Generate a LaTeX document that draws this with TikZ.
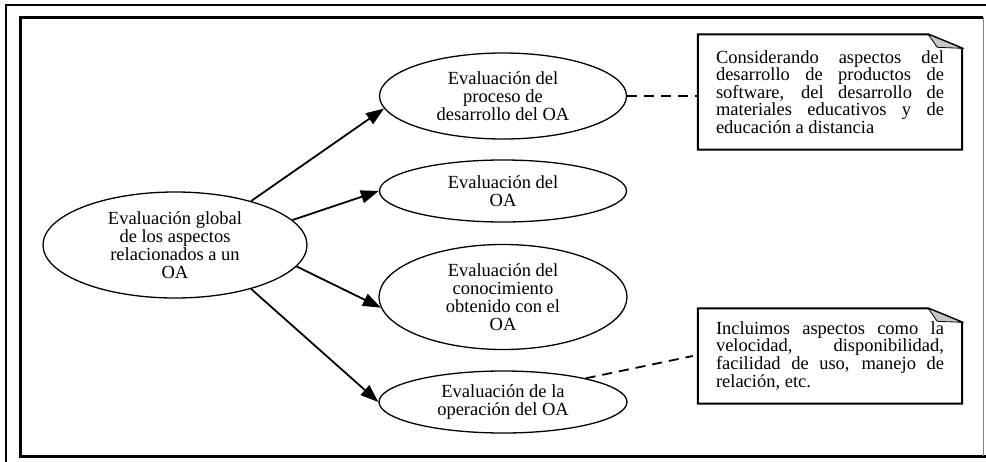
\documentclass[tikz,border=0pt]{standalone}
\usepackage{fontspec}
\setmainfont{Liberation Serif}
\usepackage{tikz}
\usetikzlibrary{arrows.meta, shapes.geometric, calc}
\tolerance=10000
\hbadness=10000

\tikzset{
  evalnode/.style={ellipse, draw, line width=1.3pt, inner sep=0pt, align=center,
    font=\fontsize{18.5}{18.2}\selectfont},
  notanode/.style={minimum width=264pt, text width=228pt, align=justify, inner sep=0pt,
    font=\fontsize{18.5}{16.8}\selectfont},
  flecha/.style={line width=1.8pt, -{Triangle[length=18pt, width=13pt]}},
  enlace/.style={line width=1.8pt, dash pattern=on 10pt off 7pt},
}

\begin{document}
\begin{tikzpicture}[x=1pt, y=-1pt]
  \useasboundingbox (0,0) rectangle (986,461);

  % --- Frame ---
  \draw[line width=2pt] (6,5) rectangle (992,467);
  \draw[line width=3pt] (983,17) -- (20,17) -- (20,456) -- (986,456);
  \draw[gray, line width=1pt] (983,17) -- (983,456);

  % --- Left: global evaluation ---
  \node[evalnode, minimum width=264pt, minimum height=106pt] (global) at (175,245)
    {Evaluación global\\de los aspectos\\relacionados a un\\OA};

  % --- Center: the four evaluations ---
  \node[evalnode, minimum width=247pt, minimum height=86pt] (proceso) at (503,96)
    {Evaluación del\\proceso de\\desarrollo del OA};
  \node[evalnode, minimum width=247pt, minimum height=62pt] (oa) at (503,191)
    {Evaluación del\\OA};
  \node[evalnode, minimum width=248pt, minimum height=105pt] (conocimiento) at (503,297)
    {Evaluación del\\conocimiento\\obtenido con el\\OA};
  \node[evalnode, minimum width=248pt, minimum height=62pt] (operacion) at (503,402)
    {Evaluación de la\\operación del OA};

  \draw[flecha] (global.30) -- (proceso.186);
  \draw[flecha] (global.12) -- (oa.west);
  \draw[flecha] (global.-10) -- (conocimiento.185);
  \draw[flecha] (global.-30) -- (operacion.west);

  % --- Right: notes ---
  \node[notanode, minimum height=115pt] (n1) at (830,92)
    {Considerando aspectos del\linebreak desarrollo de productos de\linebreak
     software, del desarrollo de\linebreak materiales educativos y de\linebreak
     educación a distancia};
  \node[notanode, minimum height=95pt] (n2) at (830,356)
    {Incluimos aspectos como la\linebreak velocidad, disponibilidad,\linebreak
     facilidad de uso, manejo de\linebreak relación, etc.};

  \foreach \n in {n1,n2} {
    \draw[line width=2pt] (\n.north west) -- ([xshift=-34pt]\n.north east)
      -- ([yshift=-14pt]\n.north east) -- (\n.south east) -- (\n.south west) -- cycle;
    \filldraw[fill=gray!45, line width=0.8pt] ([xshift=-34pt]\n.north east)
      -- ([xshift=-25pt, yshift=-13pt]\n.north east) -- ([yshift=-14pt]\n.north east) -- cycle;
  }

  \draw[enlace] (proceso.east) -- (proceso.east -| n1.west);
  \draw[enlace] (operacion.16) -- ([xshift=-5pt]n2.west);
\end{tikzpicture}
\end{document}
